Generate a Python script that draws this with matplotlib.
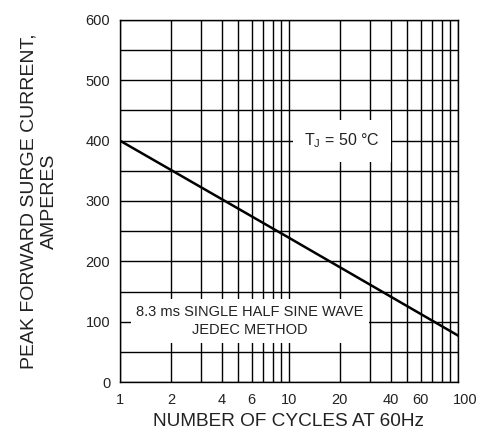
import numpy as np
import matplotlib.pyplot as plt

plt.rcParams['font.family'] = ['Liberation Sans', 'DejaVu Sans']

# curva di surge (retta in scala log)
cycles = [1, 10, 100]
current = [400, 239, 77]

xticks = [1, 2, 4, 6, 10, 20, 40, 60]
yticks = [0, 100, 200, 300, 400, 500, 600]
xgrid = [1, 2, 3, 4, 5, 6, 7, 8, 9, 10, 20, 30, 40, 50, 60, 70, 80, 90, 100]
ygrid = [0, 50, 100, 150, 200, 250, 300, 350, 400, 450, 500, 550, 600]

fig = plt.figure(figsize=(4.85, 4.36), dpi=100)
ax = fig.add_axes([120/485, (436-382)/436, (458-120)/485, (382-20)/436])

ax.set_xscale('log')
ax.set_xlim(1, 100)
ax.set_ylim(0, 600)

# griglia
for x in xgrid:
    ax.axvline(x, color='black', lw=1.0, zorder=1)
for y in ygrid:
    ax.axhline(y, color='black', lw=1.0, zorder=1)

ax.plot(cycles, current, color='black', lw=1.8, zorder=3)

ax.set_xticks(xticks)
ax.set_xticklabels([str(t) for t in xticks])
ax.xaxis.set_minor_locator(plt.NullLocator())
ax.set_yticks(yticks)
ax.tick_params(length=0, labelsize=10.5, colors='#222222')
ax.tick_params(axis='x', pad=8)
ax.tick_params(axis='y', pad=7)
ax.annotate('100', xy=(100, 0), xycoords=('data', 'axes fraction'),
            xytext=(-4, -8), textcoords='offset points',
            ha='left', va='top', fontsize=10.5, color='#222222')

for s in ax.spines.values():
    s.set_color('black')
    s.set_linewidth(1.0)

# etichette nel grafico
ax.text((342-120)/338, (382-141)/362, 'T$_\\mathregular{J}$ = 50 °C',
        transform=ax.transAxes, ha='center', va='center', fontsize=11.5,
        color='#222222', zorder=4,
        bbox=dict(facecolor='white', edgecolor='none', boxstyle='square,pad=0.7'))
ax.text((250-120)/338, (382-321)/362, '8.3 ms SINGLE HALF SINE WAVE\nJEDEC METHOD',
        transform=ax.transAxes, ha='center', va='center', fontsize=10.5,
        color='#222222', zorder=4, linespacing=1.45,
        bbox=dict(facecolor='white', edgecolor='none', pad=4))

ax.set_xlabel('NUMBER OF CYCLES AT 60Hz', fontsize=13.7, color='#222222', labelpad=4)
ax.set_ylabel('PEAK FORWARD SURGE CURRENT,\nAMPERES', fontsize=14,
              color='#222222', labelpad=20, linespacing=1.25)

fig.savefig('out.png', dpi=100)
